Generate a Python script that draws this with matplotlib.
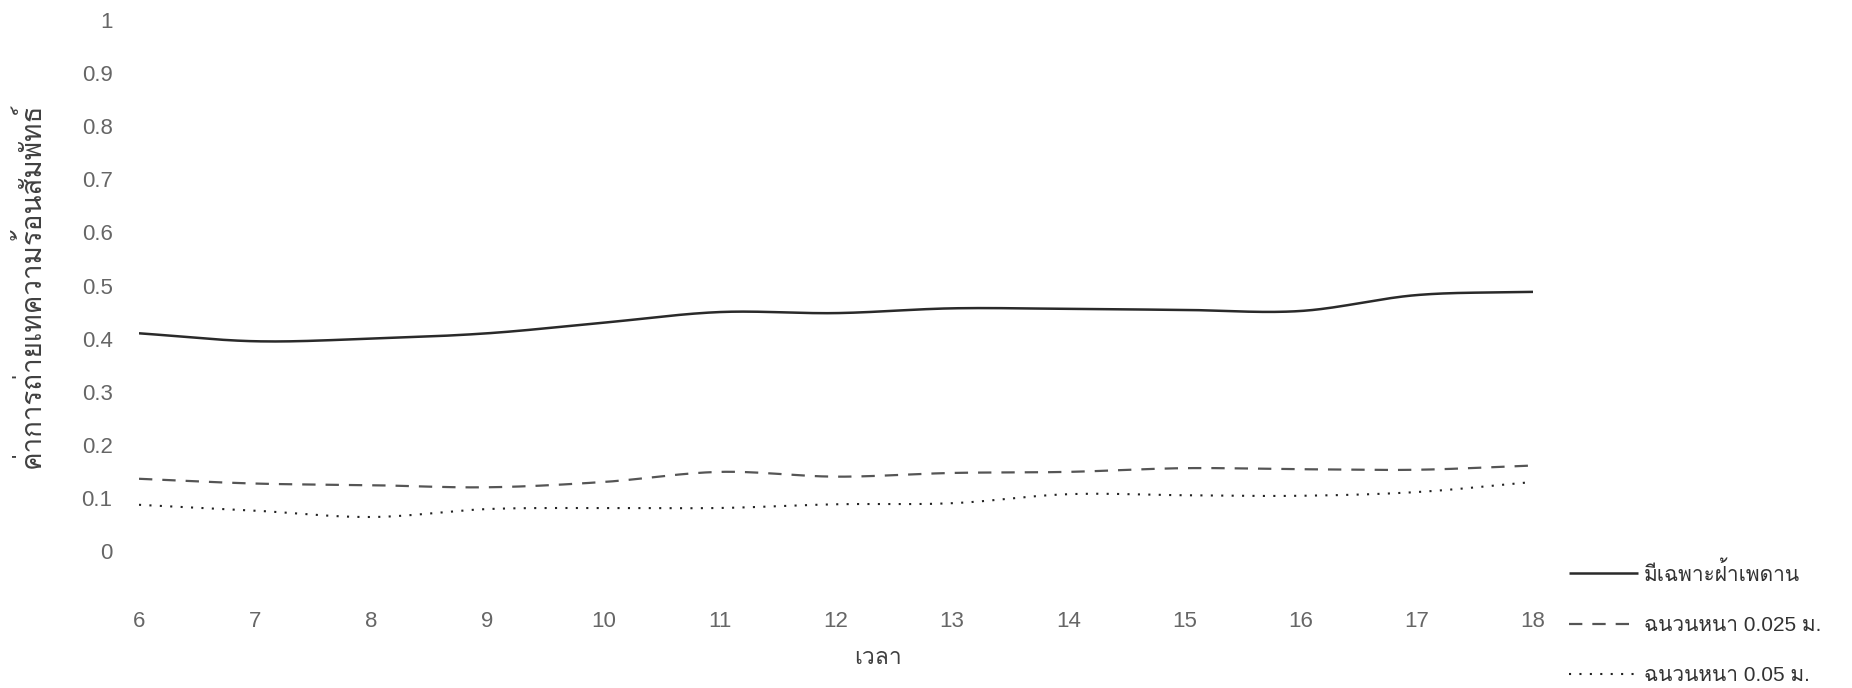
import numpy as np
import matplotlib
matplotlib.use("Agg")
import matplotlib.pyplot as plt
from matplotlib import font_manager
from matplotlib.ft2font import FT2Font

# Hourly relative heat-transfer values
hours = [6, 7, 8, 9, 10, 11, 12, 13, 14, 15, 16, 17, 18]
ceiling_only = [0.41, 0.395, 0.40, 0.41, 0.43, 0.45, 0.448, 0.457, 0.456, 0.454, 0.452, 0.482, 0.488]
insul_0025 = [0.136, 0.127, 0.124, 0.12, 0.13, 0.149, 0.14, 0.147, 0.149, 0.156, 0.154, 0.153, 0.161]
insul_005 = [0.087, 0.076, 0.064, 0.079, 0.081, 0.081, 0.088, 0.09, 0.107, 0.105, 0.104, 0.111, 0.13]
series_labels = ["มีเฉพาะฝ้าเพดาน", "ฉนวนหนา 0.025 ม.", "ฉนวนหนา 0.05 ม."]
y_ticks = [0, 0.1, 0.2, 0.3, 0.4, 0.5, 0.6, 0.7, 0.8, 0.9, 1]
y_tick_labels = ["0", "0.1", "0.2", "0.3", "0.4", "0.5", "0.6", "0.7", "0.8", "0.9", "1"]
x_title = "เวลา"
y_title = "ค่าการถ่ายเทความร้อนสัมพัทธ์"


def thai_family():
    """Return the name of an installed font that covers Thai script."""
    for entry in font_manager.fontManager.ttflist:
        try:
            cmap = FT2Font(entry.fname).get_charmap()
        except Exception:
            continue
        if 0x0E04 in cmap and 0x0E32 in cmap:
            return entry.name
    return "DejaVu Sans"


THAI = thai_family()
FAMILY = ["Liberation Sans", THAI, "DejaVu Sans"]
plt.rcParams["font.family"] = FAMILY


def smooth(xs, ys, n=40):
    """Catmull-Rom curve through the given points (like a smoothed line chart)."""
    xs = np.asarray(xs, float)
    ys = np.asarray(ys, float)
    px = np.concatenate([[2 * xs[0] - xs[1]], xs, [2 * xs[-1] - xs[-2]]])
    py = np.concatenate([[2 * ys[0] - ys[1]], ys, [2 * ys[-1] - ys[-2]]])
    out_x, out_y = [], []
    t = np.linspace(0, 1, n, endpoint=False)
    for i in range(1, len(px) - 2):
        for arr, out in ((px, out_x), (py, out_y)):
            p0, p1, p2, p3 = arr[i - 1], arr[i], arr[i + 1], arr[i + 2]
            seg = 0.5 * ((2 * p1) + (-p0 + p2) * t
                         + (2 * p0 - 5 * p1 + 4 * p2 - p3) * t ** 2
                         + (-p0 + 3 * p1 - 3 * p2 + p3) * t ** 3)
            out.extend(seg)
    out_x.append(xs[-1])
    out_y.append(ys[-1])
    return np.array(out_x), np.array(out_y)


W, H = 1852, 688
fig = plt.figure(figsize=(W / 100, H / 100), dpi=100)
fig.patch.set_facecolor("white")
ax = fig.add_axes([139 / W, 1 - 551 / H, (1533 - 139) / W, (551 - 20) / H])

styles = [
    dict(color="#2a2a2a", lw=1.8, ls="-"),
    dict(color="#555555", lw=1.6, ls=(0, (6, 4.5))),
    dict(color="#222222", lw=1.5, ls=(0, (1, 4))),
]
handles = []
for ys, lab, st in zip([ceiling_only, insul_0025, insul_005], series_labels, styles):
    sx, sy = smooth(hours, ys)
    h, = ax.plot(sx, sy, label=lab, solid_capstyle="butt", dash_capstyle="butt", **st)
    handles.append(h)

ax.set_xlim(6, 18)
ax.set_ylim(0, 1)
ax.set_xticks(hours)
ax.set_xticklabels([str(h) for h in hours])
ax.set_yticks(y_ticks)
ax.set_yticklabels(y_tick_labels)
for s in ax.spines.values():
    s.set_visible(False)
ax.tick_params(axis="both", length=0, labelsize=16, labelcolor="#666666")
ax.tick_params(axis="y", pad=19)
ax.tick_params(axis="x", pad=43)

fig.text(878 / W, 1 - 658 / H, x_title, ha="center", va="center",
         fontsize=16.5, color="#404040", family=FAMILY)
fig.text(30 / W, 1 - 285 / H, y_title, ha="center", va="center", rotation=90,
         fontsize=20, color="#404040", family=FAMILY)

fig.legend(handles=handles, loc="upper left",
           bbox_to_anchor=(1569 / W, 1 - 561 / H), frameon=False,
           fontsize=15, handlelength=3.3, handletextpad=0.3,
           labelspacing=1.5, borderpad=0, borderaxespad=0,
           labelcolor="#333333")

fig.savefig("out.png", dpi=100, facecolor="white")
